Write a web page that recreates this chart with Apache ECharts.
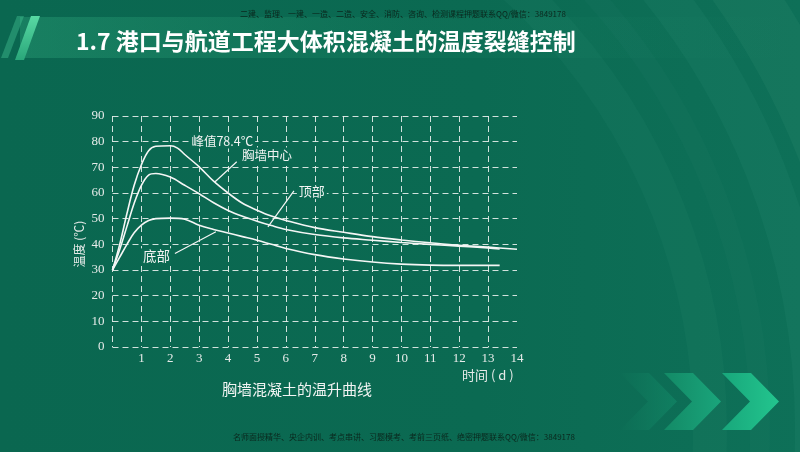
<!DOCTYPE html>
<html>
<head>
<meta charset="utf-8">
<script src="https://cdn.jsdelivr.net/npm/echarts@6/dist/echarts.min.js"></script>
<style>
  html, body { margin: 0; padding: 0; background: #0b6a52; }
  #chart { width: 800px; height: 452px; }
</style>
</head>
<body>
<div id="chart"></div>
<script>
// Temperature rise of breast-wall concrete: time (days) vs temperature (°C)
const dayTicks = [0, 1, 2, 3, 4, 5, 6, 7, 8, 9, 10, 11, 12, 13, 14];
const tempTicks = [0, 10, 20, 30, 40, 50, 60, 70, 80, 90];

// 胸墙中心 (wall centre)
const centerDays  = [0, 0.25, 0.5, 0.75, 1, 1.25, 1.5, 2, 2.25, 2.5, 3, 3.5, 4, 4.5, 5, 5.5, 6, 7, 8, 9, 10, 11, 12, 13, 14];
const centerTemps = [30, 40, 52, 63, 71, 76.5, 78.2, 78.4, 77.5, 75, 70.2, 64.6, 60, 56, 53.3, 51, 49.3, 46.5, 44.7, 43, 41.7, 40.6, 39.6, 38.9, 38.1];

// 顶部 (top)
const topDays  = [0, 0.25, 0.5, 0.75, 1, 1.25, 1.5, 2, 2.5, 3, 3.5, 4, 4.5, 5, 5.5, 6, 7, 8, 9, 10, 11, 12, 13, 13.4];
const topTemps = [30, 38, 47, 56, 63, 67, 67.6, 66.2, 63, 59.7, 56.2, 53.2, 50.9, 49, 47.3, 45.8, 43.8, 42.5, 41.6, 40.7, 40, 39.3, 38.6, 38.2];

// 底部 (bottom)
const bottomDays  = [0, 0.25, 0.5, 0.75, 1, 1.25, 1.5, 2, 2.5, 3, 3.5, 4, 4.5, 5, 5.5, 6, 7, 8, 9, 10, 11, 12, 13, 13.4];
const bottomTemps = [30, 35, 40, 44.5, 47.5, 49.3, 50, 50.2, 49.8, 47.4, 45.8, 44.4, 43, 41.6, 40, 38.4, 36, 34.3, 33.1, 32.3, 31.9, 31.8, 31.8, 31.8];

const peakValue = 78.4;

const BG = '#0b6a52';
const GRID_COLOR = 'rgba(238,242,240,0.88)';
const LABEL_COLOR = '#e6ebe9';

function pairs(xs, ys) { return xs.map((x, i) => [x, ys[i]]); }

const chart = echarts.init(document.getElementById('chart'), null, { renderer: 'canvas' });

const annoLabel = (size) => ({
  show: true, position: 'inside', color: '#f2f4f3', fontSize: size,
  fontFamily: 'Noto Sans CJK SC', backgroundColor: BG, padding: [1, 2]
});

const lineBase = {
  type: 'line', smooth: 0.35, symbol: 'none',
  lineStyle: { color: '#f4f6f5', width: 1.6 }, z: 5
};

// soft tunnel-like arcs in the background, concave to the left
const arcs = [];
[[600, 0.035, 34], [650, 0.025, 20], [705, 0.045, 40], [770, 0.05, 60], [840, 0.04, 50]].forEach(a => {
  arcs.push({
    type: 'circle', shape: { cx: 110, cy: 430, r: a[0] }, silent: true, z: -10,
    style: { fill: 'none', stroke: 'rgba(150,230,200,' + a[1] + ')', lineWidth: a[2] }
  });
});

function chevron(x0, c1, c2, opacity) {
  return {
    type: 'polygon', silent: true, z: -5,
    shape: { points: [[x0, 373], [x0 + 29, 373], [x0 + 57, 401.5], [x0 + 29, 430], [x0, 430], [x0 + 28, 401.5]] },
    style: {
      fill: { type: 'linear', x: 0, y: 0, x2: 1, y2: 0, colorStops: [{ offset: 0, color: c1 }, { offset: 1, color: c2 }] },
      opacity: opacity
    }
  };
}

const option = {
  backgroundColor: {
    type: 'linear', x: 0, y: 0, x2: 1, y2: 0,
    colorStops: [{ offset: 0, color: '#0a6750' }, { offset: 0.6, color: '#0b6a52' }, { offset: 1, color: '#0e7058' }]
  },
  animation: false,
  graphic: arcs.concat([
    // title band
    {
      type: 'rect', silent: true, z: -4, shape: { x: 20, y: 17, width: 780, height: 41 },
      style: { fill: { type: 'linear', x: 0, y: 0, x2: 1, y2: 0, colorStops: [
        { offset: 0, color: 'rgba(60,190,140,0.28)' }, { offset: 0.5, color: 'rgba(60,190,140,0.07)' }, { offset: 1, color: 'rgba(60,190,140,0)' }] } }
    },
    { type: 'polygon', silent: true, z: -3, shape: { points: [[17, 16], [24, 16], [8, 58], [1, 58]] }, style: { fill: 'rgba(70,200,150,0.4)' } },
    { type: 'polygon', silent: true, z: -3, shape: { points: [[31, 16], [40, 16], [24, 60], [15, 60]] }, style: { fill: { type: 'linear', x: 0, y: 0, x2: 0, y2: 1, colorStops: [{ offset: 0, color: '#58d9a3' }, { offset: 1, color: '#2aa77a' }] } } },
    chevron(620, '#0d6e55', '#14906c', 0.5),
    chevron(664, '#138a66', '#1aa57b', 1),
    chevron(722, '#18a77b', '#23c58e', 1),
    {
      type: 'text', left: 76, top: 30, z: 10,
      style: { text: '1.7 港口与航道工程大体积混凝土的温度裂缝控制', fill: '#ffffff', font: 'bold 23px "Noto Sans CJK SC"' }
    },
    {
      type: 'text', left: 240, top: 10, z: 10,
      style: { text: '二建、监理、一建、一造、二造、安全、消防、咨询、检测课程押题联系QQ/微信：3849178', fill: 'rgba(10,28,20,0.85)', font: '8px "Noto Sans CJK SC"' }
    },
    {
      type: 'text', left: 233, top: 433, z: 10,
      style: { text: '名师面授精华、央企内训、考点串讲、习题模考、考前三页纸、绝密押题联系QQ/微信：3849178', fill: 'rgba(10,28,20,0.85)', font: '8px "Noto Sans CJK SC"' }
    },
    {
      type: 'text', left: 462, top: 369, z: 10,
      style: { text: '时间 ( d )', fill: LABEL_COLOR, font: '13px "Noto Sans CJK SC"' }
    },
    {
      type: 'text', x: 79, y: 244, rotation: Math.PI / 2, z: 10,
      style: { text: '温度 (℃)', fill: LABEL_COLOR, font: '12px "Noto Sans CJK SC"', textAlign: 'center', textVerticalAlign: 'middle' }
    },
    {
      type: 'text', left: 222, top: 382, z: 10,
      style: { text: '胸墙混凝土的温升曲线', fill: '#f2f4f3', font: '15px "Noto Sans CJK SC"' }
    }
  ]),
  grid: { left: 112.5, right: 283, top: 116, bottom: 105, containLabel: false },
  xAxis: {
    type: 'value', min: dayTicks[0], max: dayTicks[dayTicks.length - 1], interval: 1,
    axisLine: { show: false }, axisTick: { show: false },
    axisLabel: {
      color: LABEL_COLOR, fontFamily: 'Liberation Serif', fontSize: 13, margin: 5,
      formatter: v => (v === 0 ? '' : String(v))
    },
    splitLine: {
      show: true,
      lineStyle: {
        color: dayTicks.map((d, i) => (i === dayTicks.length - 1 ? 'rgba(0,0,0,0)' : GRID_COLOR)),
        type: [6, 4], width: 1
      }
    }
  },
  yAxis: {
    type: 'value', min: tempTicks[0], max: tempTicks[tempTicks.length - 1], interval: 10,
    axisLine: { show: false }, axisTick: { show: false },
    axisLabel: { color: LABEL_COLOR, fontFamily: 'Liberation Serif', fontSize: 13, margin: 8 },
    splitLine: { show: true, lineStyle: { color: GRID_COLOR, type: [6, 4], width: 1 } }
  },
  series: [
    Object.assign({}, lineBase, {
      name: '胸墙中心', data: pairs(centerDays, centerTemps),
      markLine: {
        silent: true, symbol: 'none', label: { show: false },
        lineStyle: { color: '#f4f6f5', width: 1.2, type: 'solid' },
        data: [
          [{ coord: [4.3, 72.2] }, { coord: [3.55, 64.4] }],
          [{ coord: [6.28, 60.8] }, { coord: [5.38, 46.8] }],
          [{ coord: [2.16, 36.4] }, { coord: [3.58, 44.9] }]
        ]
      },
      markPoint: {
        silent: true, symbol: 'circle', symbolSize: 0,
        data: [
          { coord: [3.8, 80.2], label: Object.assign(annoLabel(12.5), { formatter: '峰值' + peakValue + '℃' }) },
          { coord: [5.35, 74.9], label: Object.assign(annoLabel(12.5), { formatter: '胸墙中心' }) },
          { coord: [6.9, 60.6], label: Object.assign(annoLabel(13), { formatter: '顶部' }) },
          { coord: [1.52, 35.4], label: Object.assign(annoLabel(13.5), { formatter: '底部' }) }
        ]
      }
    }),
    Object.assign({}, lineBase, { name: '顶部', data: pairs(topDays, topTemps) }),
    Object.assign({}, lineBase, { name: '底部', data: pairs(bottomDays, bottomTemps) })
  ]
};

chart.setOption(option);
</script>
</body>
</html>
